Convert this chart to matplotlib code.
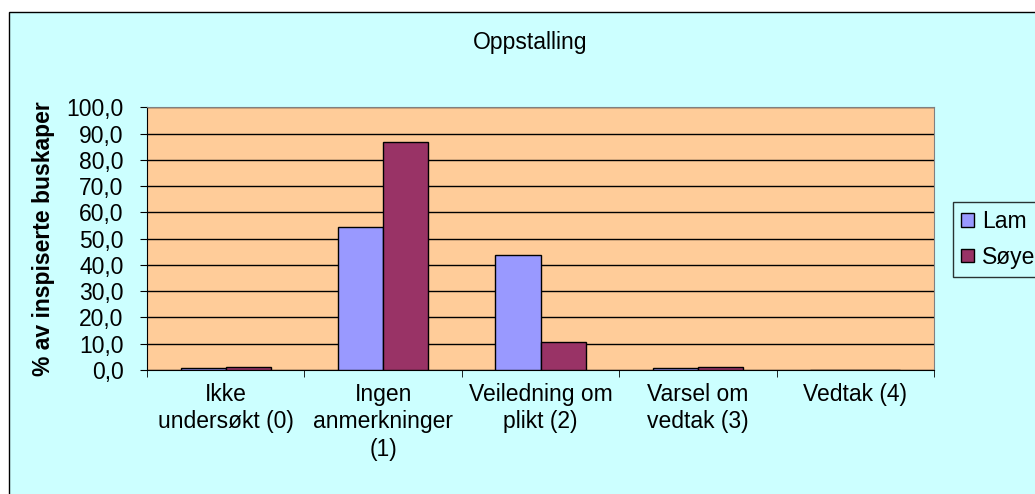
import numpy as np
import matplotlib
matplotlib.use("Agg")
import matplotlib.pyplot as plt
from matplotlib.patches import Rectangle
from matplotlib.ticker import FuncFormatter

plt.rcParams["font.family"] = ["Liberation Sans", "DejaVu Sans"]

categories = ["Ikke\nundersøkt (0)", "Ingen\nanmerkninger\n(1)", "Veiledning om\nplikt (2)",
              "Varsel om\nvedtak (3)", "Vedtak (4)"]
lam = [0.6, 54.5, 43.8, 0.6, 0.0]
soye = [1.1, 86.7, 10.6, 1.1, 0.0]
series_names = ["Lam", "Søye"]
yticks = np.arange(0, 101, 10)

W, H = 1035, 494
BG = "#CCFFFF"
PLOT_BG = "#FFCC99"
COL_LAM = "#9999FF"
COL_SOYE = "#993366"
FS = 16.5

fig = plt.figure(figsize=(W / 100, H / 100), dpi=100)
fig.patch.set_facecolor("white")

# chart area (clipped on right/bottom like the source)
fig.patches.append(Rectangle((9 / W, -0.05), 1.1, 1 - 12 / H + 0.05,
                             transform=fig.transFigure, facecolor=BG,
                             edgecolor="black", lw=1.0, zorder=-5))

ax = fig.add_axes([147 / W, (H - 370) / H, (934 - 147) / W, (370 - 107.3) / H])
ax.set_zorder(2)
ax.set_facecolor(PLOT_BG)

x = np.arange(len(categories))
w = 0.286
ax.bar(x - w / 2, lam, w, color=COL_LAM, edgecolor="black", lw=1.0,
       label=series_names[0], zorder=3)
ax.bar(x + w / 2, soye, w, color=COL_SOYE, edgecolor="black", lw=1.0,
       label=series_names[1], zorder=3)

ax.set_xlim(-0.5, len(categories) - 0.5)
ax.set_ylim(0, 100)
ax.set_yticks(yticks)
ax.yaxis.set_major_formatter(FuncFormatter(lambda v, p: f"{v:.1f}".replace(".", ",")))
ax.yaxis.grid(True, color="black", lw=1.0)
ax.set_axisbelow(True)

ax.set_xticks(x)
ax.set_xticklabels(categories, fontsize=FS, linespacing=1.25)
ax.set_xticks(np.arange(-0.5, len(categories)), minor=True)
ax.tick_params(axis="x", which="major", length=0, pad=9)
ax.tick_params(axis="x", which="minor", length=5, direction="out", color="black")
ax.tick_params(axis="y", length=5, direction="out", labelsize=FS, pad=12)

for s in ["top", "right"]:
    ax.spines[s].set_color("#808080")
ax.spines["left"].set_color("black")
ax.spines["bottom"].set_color("black")

ax.set_ylabel("% av inspiserte buskaper", fontsize=FS, fontweight="bold", labelpad=8)

fig.text(530 / W, 1 - 49 / H, "Oppstalling", ha="center", va="baseline", fontsize=FS)

leg = fig.legend(loc="upper left", bbox_to_anchor=(953 / W, 1 - 202 / H),
                 fontsize=FS, frameon=True, fancybox=False, handlelength=0.55,
                 handleheight=0.55, handletextpad=0.35, labelspacing=0.55,
                 borderpad=0.35, borderaxespad=0)
leg.get_frame().set_facecolor(BG)
leg.get_frame().set_edgecolor("black")
leg.get_frame().set_linewidth(1.0)

fig.savefig("out.png", dpi=100, facecolor=fig.get_facecolor())
